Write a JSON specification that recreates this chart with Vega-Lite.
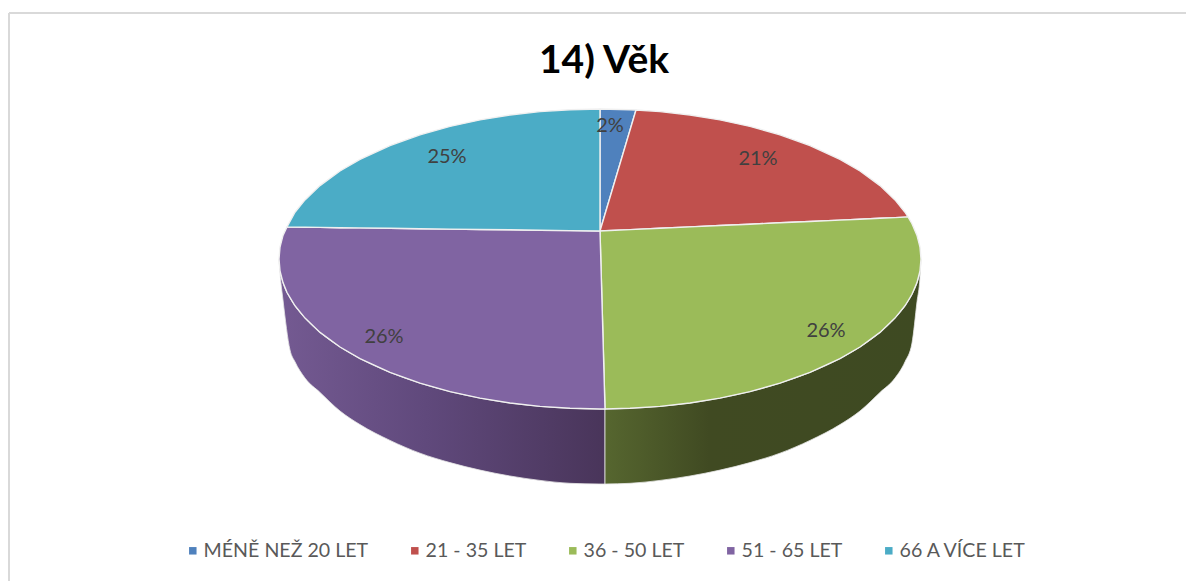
{
"$schema":"https://vega.github.io/schema/vega-lite/v6.json",
"width":1186,"height":581,"padding":0,"autosize":{"type":"none"},
"background":"white",
"title":{"text":"14) Věk","font":"Lato","fontSize":39,"fontWeight":"bold","color":"#000000","anchor":"middle","dx":11,"dy":85},
"config":{"view":{"stroke":null}},
"datasets":{
"top":[
{"slice":"MÉNĚ NEŽ 20 LET","X":0,"Y":122,"Y2":0},{"slice":"MÉNĚ NEŽ 20 LET","X":30,"Y":121.3,"Y2":100.8},{"slice":"MÉNĚ NEŽ 20 LET","X":36,"Y":121,"Y2":121},
{"slice":"21 - 35 LET","X":0,"Y":0,"Y2":0},{"slice":"21 - 35 LET","X":36,"Y":121,"Y2":1.6},{"slice":"21 - 35 LET","X":60,"Y":119.4,"Y2":2.7},{"slice":"21 - 35 LET","X":90,"Y":116,"Y2":4.1},{"slice":"21 - 35 LET","X":120,"Y":111.1,"Y2":5.5},{"slice":"21 - 35 LET","X":150,"Y":104.6,"Y2":6.8},{"slice":"21 - 35 LET","X":180,"Y":96.2,"Y2":8.2},{"slice":"21 - 35 LET","X":210,"Y":85.4,"Y2":9.5},{"slice":"21 - 35 LET","X":240,"Y":71.6,"Y2":10.9},{"slice":"21 - 35 LET","X":260,"Y":60,"Y2":11.8},{"slice":"21 - 35 LET","X":280,"Y":45.4,"Y2":12.7},{"slice":"21 - 35 LET","X":295,"Y":31.1,"Y2":13.4},{"slice":"21 - 35 LET","X":305,"Y":18.8,"Y2":13.9},{"slice":"21 - 35 LET","X":308,"Y":14,"Y2":14},
{"slice":"36 - 50 LET","X":0,"Y":0,"Y2":0},{"slice":"36 - 50 LET","X":5,"Y":0.2,"Y2":-178},{"slice":"36 - 50 LET","X":30,"Y":1.4,"Y2":-177.3},{"slice":"36 - 50 LET","X":60,"Y":2.7,"Y2":-175.4},{"slice":"36 - 50 LET","X":90,"Y":4.1,"Y2":-172},{"slice":"36 - 50 LET","X":120,"Y":5.5,"Y2":-167.1},{"slice":"36 - 50 LET","X":150,"Y":6.8,"Y2":-160.6},{"slice":"36 - 50 LET","X":180,"Y":8.2,"Y2":-152.2},{"slice":"36 - 50 LET","X":210,"Y":9.5,"Y2":-141.4},{"slice":"36 - 50 LET","X":240,"Y":10.9,"Y2":-127.6},{"slice":"36 - 50 LET","X":260,"Y":11.8,"Y2":-116},{"slice":"36 - 50 LET","X":280,"Y":12.7,"Y2":-101.4},{"slice":"36 - 50 LET","X":295,"Y":13.4,"Y2":-87.1},{"slice":"36 - 50 LET","X":305,"Y":13.9,"Y2":-74.8},{"slice":"36 - 50 LET","X":308,"Y":14,"Y2":-70},{"slice":"36 - 50 LET","X":312,"Y":7.3,"Y2":-63.3},{"slice":"36 - 50 LET","X":317,"Y":-4.4,"Y2":-51.6},{"slice":"36 - 50 LET","X":320,"Y":-16.2,"Y2":-39.8},{"slice":"36 - 50 LET","X":321,"Y":-28,"Y2":-28},
{"slice":"51 - 65 LET","X":-321,"Y":-28,"Y2":-28},{"slice":"51 - 65 LET","X":-320,"Y":-16.2,"Y2":-39.8},{"slice":"51 - 65 LET","X":-317,"Y":-4.4,"Y2":-51.6},{"slice":"51 - 65 LET","X":-313,"Y":4,"Y2":-61.5},{"slice":"51 - 65 LET","X":-305,"Y":3.9,"Y2":-74.8},{"slice":"51 - 65 LET","X":-295,"Y":3.8,"Y2":-87.1},{"slice":"51 - 65 LET","X":-280,"Y":3.6,"Y2":-101.4},{"slice":"51 - 65 LET","X":-260,"Y":3.3,"Y2":-116},{"slice":"51 - 65 LET","X":-240,"Y":3.1,"Y2":-127.6},{"slice":"51 - 65 LET","X":-210,"Y":2.7,"Y2":-141.4},{"slice":"51 - 65 LET","X":-180,"Y":2.3,"Y2":-152.2},{"slice":"51 - 65 LET","X":-150,"Y":1.9,"Y2":-160.6},{"slice":"51 - 65 LET","X":-120,"Y":1.5,"Y2":-167.1},{"slice":"51 - 65 LET","X":-90,"Y":1.2,"Y2":-172},{"slice":"51 - 65 LET","X":-60,"Y":0.8,"Y2":-175.4},{"slice":"51 - 65 LET","X":-30,"Y":0.4,"Y2":-177.3},{"slice":"51 - 65 LET","X":0,"Y":0,"Y2":-178},{"slice":"51 - 65 LET","X":5,"Y":-178,"Y2":-178},
{"slice":"66 A VÍCE LET","X":-313,"Y":4,"Y2":4},{"slice":"66 A VÍCE LET","X":-305,"Y":18.8,"Y2":3.9},{"slice":"66 A VÍCE LET","X":-295,"Y":31.1,"Y2":3.8},{"slice":"66 A VÍCE LET","X":-280,"Y":45.4,"Y2":3.6},{"slice":"66 A VÍCE LET","X":-260,"Y":60,"Y2":3.3},{"slice":"66 A VÍCE LET","X":-240,"Y":71.6,"Y2":3.1},{"slice":"66 A VÍCE LET","X":-210,"Y":85.4,"Y2":2.7},{"slice":"66 A VÍCE LET","X":-180,"Y":96.2,"Y2":2.3},{"slice":"66 A VÍCE LET","X":-150,"Y":104.6,"Y2":1.9},{"slice":"66 A VÍCE LET","X":-120,"Y":111.1,"Y2":1.5},{"slice":"66 A VÍCE LET","X":-90,"Y":116,"Y2":1.2},{"slice":"66 A VÍCE LET","X":-60,"Y":119.4,"Y2":0.8},{"slice":"66 A VÍCE LET","X":-30,"Y":121.3,"Y2":0.4},{"slice":"66 A VÍCE LET","X":0,"Y":122,"Y2":0}
],
"wallPurple":[
{"X":-321,"Y":-28,"Y2":-28},{"X":-320,"Y":-39.8,"Y2":-42},{"X":-317,"Y":-51.6,"Y2":-69},{"X":-310,"Y":-67,"Y2":-119},{"X":-305,"Y":-74.8,"Y2":-130.8},{"X":-295,"Y":-87.1,"Y2":-147.1},{"X":-280,"Y":-101.4,"Y2":-161.4},{"X":-260,"Y":-116,"Y2":-180},{"X":-240,"Y":-127.6,"Y2":-193.6},{"X":-210,"Y":-141.4,"Y2":-209.4},{"X":-180,"Y":-152.2,"Y2":-222.2},{"X":-150,"Y":-160.6,"Y2":-231.6},{"X":-120,"Y":-167.1,"Y2":-239.1},{"X":-90,"Y":-172,"Y2":-245},{"X":-60,"Y":-175.4,"Y2":-249.4},{"X":-30,"Y":-177.3,"Y2":-252.3},{"X":0,"Y":-178,"Y2":-253},{"X":5,"Y":-178,"Y2":-253}
],
"wallGreen":[
{"X":5,"Y":-178,"Y2":-253},{"X":30,"Y":-177.3,"Y2":-252.3},{"X":60,"Y":-175.4,"Y2":-249.4},{"X":90,"Y":-172,"Y2":-245},{"X":120,"Y":-167.1,"Y2":-239.1},{"X":150,"Y":-160.6,"Y2":-231.6},{"X":180,"Y":-152.2,"Y2":-222.2},{"X":210,"Y":-141.4,"Y2":-209.4},{"X":240,"Y":-127.6,"Y2":-193.6},{"X":260,"Y":-116,"Y2":-180},{"X":280,"Y":-101.4,"Y2":-161.4},{"X":295,"Y":-87.1,"Y2":-147.1},{"X":305,"Y":-74.8,"Y2":-130.8},{"X":312,"Y":-63.3,"Y2":-112},{"X":317,"Y":-51.6,"Y2":-70.8},{"X":320,"Y":-39.8,"Y2":-46},{"X":321,"Y":-28,"Y2":-28}
],
"labels":[
{"slice":"MÉNĚ NEŽ 20 LET","share":0.02,"X":10,"Y":105},
{"slice":"21 - 35 LET","share":0.21,"X":158,"Y":72},
{"slice":"36 - 50 LET","share":0.26,"X":226,"Y":-100},
{"slice":"51 - 65 LET","share":0.26,"X":-216,"Y":-106},
{"slice":"66 A VÍCE LET","share":0.25,"X":-153,"Y":74}
]
},
"encoding":{
"x":{"field":"X","type":"quantitative","axis":null,"scale":{"domain":[-600,586],"nice":false,"zero":false}},
"y":{"field":"Y","type":"quantitative","axis":null,"scale":{"domain":[-350,231],"nice":false,"zero":false}}
},
"layer":[
{"data":{"values":[{"X":-591,"Y":218,"Y2":-350},{"X":-591,"Y":218,"X2":586}]},
 "mark":{"type":"rule","stroke":"#d9d9d9","strokeWidth":2},
 "encoding":{"x2":{"field":"X2"},"y2":{"field":"Y2"}}},
{"data":{"name":"wallPurple"},
 "mark":{"type":"area","interpolate":"monotone","stroke":"#e6e6e6","strokeWidth":0.8,"color":{"gradient":"linear","x1":0,"y1":0,"x2":1,"y2":0,"stops":[{"offset":0,"color":"#745a92"},{"offset":0.45,"color":"#60497c"},{"offset":1,"color":"#49355a"}]}},
 "encoding":{"y2":{"field":"Y2"}}},
{"data":{"name":"wallGreen"},
 "mark":{"type":"area","interpolate":"monotone","stroke":"#e6e6e6","strokeWidth":0.8,"color":{"gradient":"linear","x1":0,"y1":0,"x2":1,"y2":0,"stops":[{"offset":0,"color":"#56662f"},{"offset":0.33,"color":"#404a22"},{"offset":1,"color":"#3e4a22"}]}},
 "encoding":{"y2":{"field":"Y2"}}},
{"data":{"name":"top"},
 "mark":{"type":"area","stroke":"#f0f0f0","strokeWidth":1.4},
 "encoding":{"y2":{"field":"Y2"},
  "color":{"field":"slice","type":"nominal","sort":null,
   "scale":{"domain":["MÉNĚ NEŽ 20 LET","21 - 35 LET","36 - 50 LET","51 - 65 LET","66 A VÍCE LET"],"range":["#4f81bd","#c0504d","#9bbb59","#8064a2","#4bacc6"]},
   "legend":{"title":null,"orient":"none","legendX":183,"legendY":541,"direction":"horizontal","columns":5,"gridAlign":"none","columnPadding":36,"symbolType":"square","symbolSize":56,"symbolStrokeWidth":0,"symbolOpacity":1,"labelFont":"Lato","labelFontSize":19.6,"labelColor":"#595959","labelOffset":1,"labelLimit":300}}}},
{"data":{"name":"labels"},
 "mark":{"type":"text","font":"Lato","fontSize":20,"color":"#404040","align":"center","baseline":"middle"},
 "encoding":{"text":{"field":"share","type":"quantitative","format":".0%"}}}
]
}
